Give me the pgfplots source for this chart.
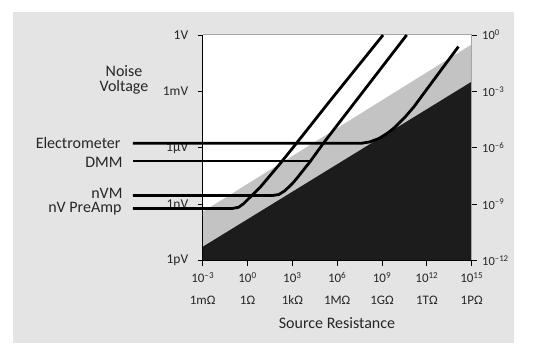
\documentclass[border=0pt]{standalone}
\usepackage{pgfplots}
\pgfplotsset{compat=1.18}
\usepackage{fontspec}
\setmainfont{Carlito}
\definecolor{panel}{HTML}{E4E4E4}
\definecolor{lgray}{HTML}{C3C3C3}
\definecolor{dgray}{HTML}{1C1C1C}
\definecolor{txt}{HTML}{262626}
\begin{document}
\begin{tikzpicture}[x=1pt,y=1pt]
\useasboundingbox (0,0) rectangle (541,345);
\fill[white] (0,0) rectangle (541,345);
\fill[panel] (13,2) rectangle (514,333);
% right-hand scale
\begin{axis}[
  at={(202.7pt,84.3pt)}, anchor=south west,
  width=269pt, height=225.7pt, scale only axis,
  xmin=-3, xmax=15, ymin=-12, ymax=0,
  axis line style={draw=none},
  xtick=\empty,
  ytick={-12,-9,-6,-3,0},
  ytick pos=right, yticklabel pos=right,
  yticklabels={10\textsuperscript{–12},10\textsuperscript{–9},10\textsuperscript{–6},10\textsuperscript{–3},10\textsuperscript{0}},
  tick align=outside, major tick length=5pt,
  tick style={black, line width=0.8pt},
  yticklabel style={font=\fontsize{12.5}{14}\selectfont, text=txt, xshift=2pt},
]
\addplot[draw=none] coordinates {(-3,-12) (15,0)};
\end{axis}
\begin{axis}[
  at={(202.7pt,84.3pt)}, anchor=south west,
  width=269pt, height=225.7pt, scale only axis,
  xmin=-3, xmax=15, ymin=-12, ymax=0,
  clip=false,
  axis line style={draw=none},
  axis background/.style={fill=white},
  xtick={-3,0,3,6,9,12,15},
  xticklabels={{10\textsuperscript{–3}\\1mΩ},{10\textsuperscript{0}\\1Ω},{10\textsuperscript{3}\\1kΩ},{10\textsuperscript{6}\\1MΩ},{10\textsuperscript{9}\\1GΩ},{10\textsuperscript{12}\\1TΩ},{10\textsuperscript{15}\\1PΩ}},
  ytick={-12,-9,-6,-3,0},
  yticklabels={1pV,1nV,1µV,1mV,1V},
  xtick pos=left, ytick pos=left,
  tick align=outside, major tick length=5pt,
  tick style={black, line width=0.8pt},
  xticklabel style={align=center, font=\fontsize{13}{22}\selectfont, text=txt, yshift=-3pt},
  yticklabel style={font=\fontsize{13.5}{15}\selectfont, text=txt, xshift=-6pt},
]
\addplot[fill=lgray, draw=none] coordinates {(-3,-12) (-3,-9.4) (15,-0.5) (15,-12)} -- cycle;
\addplot[fill=dgray, draw=none] coordinates {(-3,-12) (-3,-11.26) (15,-2.48) (15,-12)} -- cycle;
\draw[gray!70, line width=1pt] (rel axis cs:0,1) -- (rel axis cs:1,1) -- (rel axis cs:1,0);
\draw[black, line width=1.3pt] (rel axis cs:0,1) -- (rel axis cs:0,0) -- (rel axis cs:1,0);
% nV PreAmp
\addplot[black, line width=2.8pt, line join=round] coordinates {
 (-7.67,-9.22) (-1.0,-9.22) (-0.6,-9.16) (-0.28,-8.98) (0.2,-8.6) (0.84,-8.1)
 (2.17,-6.85) (3.27,-5.76) (5.52,-3.5) (9.07,0)};
% nVM
\addplot[black, line width=2.8pt, line join=round] coordinates {
 (-7.67,-8.53) (1.7,-8.53) (2.1,-8.48) (2.5,-8.28) (3.0,-7.9) (3.3,-7.62)
 (4.18,-6.74) (5.07,-5.76) (6.19,-4.6) (10.65,0)};
% DMM
\addplot[black, line width=2.8pt] coordinates {(-7.67,-6.70) (4.3,-6.70)};
% Electrometer
\addplot[black, line width=2.8pt, line join=round] coordinates {
 (-7.67,-5.76) (7.6,-5.76) (8.2,-5.68) (8.8,-5.5) (9.4,-5.2) (9.87,-4.9)
 (10.5,-4.4) (11.1,-3.85) (14.11,-0.62)};
\end{axis}
\begin{scope}[every node/.style={font=\fontsize{16}{15}\selectfont, text=txt}]
\node[align=center] at (124,265) {Noise\\Voltage};
\node[anchor=east] at (124,202) {Electrometer};
\node[anchor=east] at (126,183) {DMM};
\node[anchor=east] at (126,152) {nVM};
\node[anchor=east] at (125,136) {nV PreAmp};
\node at (337,22) {Source Resistance};
\end{scope}
\end{tikzpicture}
\end{document}
